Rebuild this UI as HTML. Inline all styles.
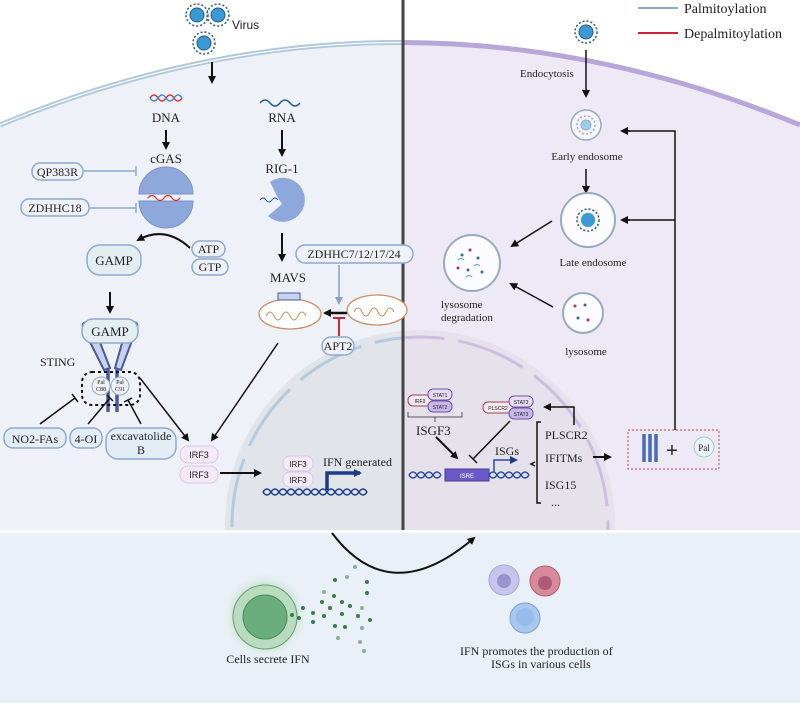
<!DOCTYPE html>
<html><head><meta charset="utf-8"><style>
html,body{margin:0;padding:0;background:#fff}
svg{display:block}
text{font-family:"Liberation Serif",serif;fill:#222}
.s{font-family:"Liberation Sans",sans-serif}
</style></head><body>
<svg width="800" height="706" viewBox="0 0 800 706" xmlns="http://www.w3.org/2000/svg">
<defs>
<marker id="a" markerWidth="8" markerHeight="8" refX="6" refY="4" orient="auto" markerUnits="userSpaceOnUse"><path d="M0,0 L8,4 L0,8 z" fill="#111"/></marker>
<marker id="ab" markerWidth="8" markerHeight="8" refX="6" refY="4" orient="auto" markerUnits="userSpaceOnUse"><path d="M0,0 L8,4 L0,8 z" fill="#8aa0c8"/></marker>
<marker id="an" markerWidth="8" markerHeight="8" refX="6" refY="4" orient="auto" markerUnits="userSpaceOnUse"><path d="M0,0 L8,4 L0,8 z" fill="#1a3a8a"/></marker>
<clipPath id="L"><rect x="0" y="0" width="403" height="530"/></clipPath>
<clipPath id="R"><rect x="403" y="0" width="397" height="530"/></clipPath>
<radialGradient id="g"><stop offset="0.5" stop-color="#9fd4a8"/><stop offset="1" stop-color="#eef3f9" stop-opacity="0"/></radialGradient>
</defs>
<rect width="800" height="706" fill="#fff"/>
<path d="M0,125 Q400,-40 800,125 L800,530 L0,530 z" fill="#eef2f8" clip-path="url(#L)"/>
<path d="M0,125 Q400,-40 800,125 L800,530 L0,530 z" fill="#eeeaf5" clip-path="url(#R)"/>
<circle cx="420" cy="525" r="195" fill="#e1e4e9" clip-path="url(#L)"/>
<circle cx="420" cy="525" r="195" fill="#e5e2ec" clip-path="url(#R)"/>
<circle cx="420" cy="525" r="188" fill="none" stroke="#b4cadd" stroke-width="3" stroke-dasharray="70 14" clip-path="url(#L)"/>
<circle cx="420" cy="525" r="188" fill="none" stroke="#cbbee0" stroke-width="3" stroke-dasharray="70 14" clip-path="url(#R)"/>
<path d="M0,125 Q400,-40 800,125" fill="none" stroke="#b0c8dc" stroke-width="5" clip-path="url(#L)"/>
<path d="M0,125 Q400,-40 800,125" fill="none" stroke="#fff" stroke-width="1.2" clip-path="url(#L)"/>
<path d="M0,125 Q400,-40 800,125" fill="none" stroke="#b7a6d8" stroke-width="5" clip-path="url(#R)"/>
<rect x="0" y="533" width="800" height="170" fill="#eaf0f7"/>
<line x1="403" y1="0" x2="403" y2="530" stroke="#444" stroke-width="3"/>
<line x1="638" y1="8" x2="678" y2="8" stroke="#8fa8cc" stroke-width="2"/>
<text x="684" y="13" font-size="14">Palmitoylation</text>
<line x1="638" y1="33" x2="678" y2="33" stroke="#d0223a" stroke-width="2"/>
<text x="684" y="38" font-size="14">Depalmitoylation</text>
<g fill="#3a9ad6" stroke="#2a5a8a" stroke-width="1">
<circle cx="197" cy="15" r="7"/><circle cx="218" cy="15" r="7"/><circle cx="204" cy="43" r="7"/><circle cx="586" cy="32" r="7"/>
<circle cx="586" cy="125" r="5"/><circle cx="588" cy="220" r="7"/>
</g>
<g stroke="#2a5a8a" stroke-width="1.5" stroke-dasharray="2 2" fill="none">
<circle cx="197" cy="15" r="11"/><circle cx="218" cy="15" r="11"/><circle cx="204" cy="43" r="11"/><circle cx="586" cy="32" r="11"/><circle cx="586" cy="125" r="9"/><circle cx="588" cy="220" r="11"/>
</g>
<text x="232" y="29" font-size="12" class="s">Virus</text>
<line x1="212" y1="62" x2="212" y2="82" stroke="#111" stroke-width="2" marker-end="url(#a)"/>
<path d="M150,98 q4,-6 8,0 t8,0 t8,0 t8,0" fill="none" stroke="#d33" stroke-width="1.5"/>
<path d="M150,98 q4,6 8,0 t8,0 t8,0 t8,0" fill="none" stroke="#3a8ad6" stroke-width="1.5"/>
<text x="166" y="122" font-size="13" text-anchor="middle">DNA</text>
<line x1="166" y1="130" x2="166" y2="148" stroke="#111" stroke-width="2" marker-end="url(#a)"/>
<text x="166" y="163" font-size="13" text-anchor="middle">cGAS</text>
<path d="M139,194 A27,27 0 0 1 193,194 z" fill="#8fa8dc" stroke="#7a92c8"/>
<path d="M139,201 A27,27 0 0 0 193,201 z" fill="#8fa8dc" stroke="#7a92c8"/>
<path d="M148,198 q4,-5 8,0 t8,0 t8,0 t8,0" fill="none" stroke="#d33" stroke-width="1.3"/>
<rect x="32" y="163" width="51" height="17" rx="8" fill="#eef2f8" stroke="#8fa8cc" stroke-width="1.5"/>
<text x="57.5" y="176" font-size="12" text-anchor="middle">QP383R</text>
<rect x="21" y="199" width="68" height="17" rx="8" fill="#eef2f8" stroke="#8fa8cc" stroke-width="1.5"/>
<text x="55" y="212" font-size="12" text-anchor="middle">ZDHHC18</text>
<path d="M84,171 H136 M136,166 V176 M90,208 H136 M136,203 V213" stroke="#8fa8cc" stroke-width="1.5" fill="none"/>
<path d="M190,248 Q165,225 138,240" fill="none" stroke="#111" stroke-width="2" marker-end="url(#a)"/>
<rect x="87" y="245" width="54" height="30" rx="13" fill="#e4eef0" stroke="#8fa8cc" stroke-width="1.5"/>
<text x="114" y="265" font-size="13" text-anchor="middle">GAMP</text>
<rect x="192" y="241" width="33" height="16" rx="8" fill="#eef2f8" stroke="#8fa8cc" stroke-width="1.5"/>
<text x="208.5" y="253" font-size="12" text-anchor="middle">ATP</text>
<rect x="192" y="259" width="36" height="16" rx="8" fill="#eef2f8" stroke="#8fa8cc" stroke-width="1.5"/>
<text x="210" y="271" font-size="12" text-anchor="middle">GTP</text>
<line x1="110" y1="292" x2="110" y2="312" stroke="#111" stroke-width="2" marker-end="url(#a)"/>
<!-- STING -->
<path d="M108,368 V412 M117,368 V412" fill="none" stroke="#4a5a9a" stroke-width="3.5"/>
<path d="M84,330 Q80,322 88,322 L92,322 L110,368 L104,370 z" fill="#c7d2ee" stroke="#4a5a9a" stroke-width="2"/>
<path d="M136,330 Q140,322 132,322 L128,322 L115,368 L121,370 z" fill="#c7d2ee" stroke="#4a5a9a" stroke-width="2"/>
<rect x="82" y="319" width="56" height="24" rx="11" fill="#e4eef0" stroke="#8fa8cc" stroke-width="1.5"/>
<text x="110" y="336" font-size="13" text-anchor="middle">GAMP</text>
<text x="40" y="366" font-size="12">STING</text>
<rect x="82" y="372" width="58" height="33" rx="10" fill="none" stroke="#111" stroke-width="2" stroke-dasharray="3 3"/>
<circle cx="101" cy="386" r="9" fill="#eef2f8" stroke="#9ab"/><circle cx="120" cy="386" r="9" fill="#eef2f8" stroke="#9ab"/>
<text x="101" y="384" font-size="6" text-anchor="middle">Pal</text><text x="101" y="391" font-size="6" text-anchor="middle">C88</text>
<text x="120" y="384" font-size="6" text-anchor="middle">Pal</text><text x="120" y="391" font-size="6" text-anchor="middle">C91</text>
<rect x="4" y="428" width="62" height="20" rx="9" fill="#e4ecf6" stroke="#8fa8cc" stroke-width="1.5"/>
<text x="35" y="443" font-size="12" text-anchor="middle">NO2-FAs</text>
<rect x="70" y="428" width="32" height="20" rx="9" fill="#e4ecf6" stroke="#8fa8cc" stroke-width="1.5"/>
<text x="86" y="443" font-size="12" text-anchor="middle">4-OI</text>
<rect x="106" y="428" width="70" height="31" rx="12" fill="#e4ecf6" stroke="#8fa8cc" stroke-width="1.5"/>
<text x="141" y="440" font-size="12" text-anchor="middle">excavatolide</text>
<text x="141" y="454" font-size="12" text-anchor="middle">B</text>
<path d="M40,424 L75,398 M72,394 L78,402 M88,424 L110,398 M107,395 L113,401 M141,424 L128,400 M124,402 L132,398" stroke="#111" stroke-width="1.5" fill="none"/>
<line x1="140" y1="378" x2="188" y2="440" stroke="#111" stroke-width="1.5" marker-end="url(#a)"/>
<line x1="278" y1="343" x2="212" y2="440" stroke="#111" stroke-width="1.5" marker-end="url(#a)"/>
<rect x="180" y="446" width="38" height="17" rx="8" fill="#f3eaf6" stroke="#d8c8e4"/>
<text x="199" y="458" font-size="9" text-anchor="middle" class="s">IRF3</text>
<rect x="180" y="466" width="38" height="17" rx="8" fill="#f3eaf6" stroke="#d8c8e4"/>
<text x="199" y="478" font-size="9" text-anchor="middle" class="s">IRF3</text>
<line x1="220" y1="473" x2="260" y2="473" stroke="#111" stroke-width="2" marker-end="url(#a)"/>
<path d="M263,492 q4,-6 8,0 t8,0 t8,0 t8,0 t8,0 t8,0 t8,0 t8,0 t8,0 t8,0 t8,0 t8,0 t8,0" fill="none" stroke="#1a3a8a" stroke-width="1.5"/>
<path d="M263,492 q4,6 8,0 t8,0 t8,0 t8,0 t8,0 t8,0 t8,0 t8,0 t8,0 t8,0 t8,0 t8,0 t8,0" fill="none" stroke="#1a3a8a" stroke-width="1.5"/>
<rect x="283" y="456" width="30" height="15" rx="7" fill="#f3eaf6" stroke="#d8c8e4"/>
<text x="298" y="467" font-size="8" text-anchor="middle" class="s">IRF3</text>
<rect x="283" y="472" width="30" height="15" rx="7" fill="#f3eaf6" stroke="#d8c8e4"/>
<text x="298" y="483" font-size="8" text-anchor="middle" class="s">IRF3</text>
<path d="M327,490 V473 H360" fill="none" stroke="#1a3a8a" stroke-width="3.5" marker-end="url(#an)"/>
<text x="323" y="466" font-size="12">IFN generated</text>
<path d="M260,103 q5,-6 10,0 t10,0 t10,0 t10,0" fill="none" stroke="#2a5a8a" stroke-width="1.5"/>
<text x="282" y="122" font-size="13" text-anchor="middle">RNA</text>
<line x1="282" y1="130" x2="282" y2="155" stroke="#111" stroke-width="2" marker-end="url(#a)"/>
<text x="282" y="173" font-size="13" text-anchor="middle">RIG-1</text>
<path d="M270,182 A22,22 0 1 1 268,216 L282,204 L278,198 z" fill="#8fa8dc"/>
<path d="M260,200 q3,-4 6,0 t6,0 t6,0" fill="none" stroke="#2a5a8a" stroke-width="1"/>
<line x1="282" y1="233" x2="282" y2="260" stroke="#111" stroke-width="2" marker-end="url(#a)"/>
<text x="288" y="282" font-size="13" text-anchor="middle">MAVS</text>
<ellipse cx="290" cy="314" rx="31" ry="15" fill="#fff" stroke="#c8906a" stroke-width="1.3"/>
<path d="M266,316 q4,-8 8,0 q4,8 8,0 q4,-8 8,0 q4,8 8,0 q4,-8 8,0" fill="none" stroke="#c8906a"/>
<rect x="278" y="293" width="22" height="7" fill="#c7d2ee" stroke="#4a5a9a"/>
<ellipse cx="377" cy="310" rx="30" ry="15" fill="#fff" stroke="#c8906a" stroke-width="1.3"/>
<path d="M354,312 q4,-8 8,0 q4,8 8,0 q4,-8 8,0 q4,8 8,0 q4,-8 8,0" fill="none" stroke="#c8906a"/>
<line x1="347" y1="313" x2="325" y2="313" stroke="#111" stroke-width="2.5" marker-end="url(#a)"/>
<line x1="339" y1="265" x2="339" y2="303" stroke="#8aa0c8" stroke-width="1.5" marker-end="url(#ab)"/>
<path d="M339,336 V318 M333,318 H345" stroke="#d0223a" stroke-width="2" fill="none"/>
<rect x="296" y="245" width="117" height="18" rx="9" fill="#eef2f8" stroke="#8fa8cc" stroke-width="1.5"/>
<text x="354" y="258" font-size="12" text-anchor="middle">ZDHHC7/12/17/24</text>
<rect x="322" y="337" width="32" height="18" rx="9" fill="#eef2f8" stroke="#8fa8cc" stroke-width="1.5"/>
<text x="338" y="350" font-size="12" text-anchor="middle">APT2</text>
<line x1="586" y1="50" x2="586" y2="96" stroke="#111" stroke-width="1.5" marker-end="url(#a)"/>
<text x="520" y="77" font-size="11">Endocytosis</text>
<circle cx="586" cy="125" r="15" fill="#fff" stroke="#9ab" stroke-width="1.5" fill-opacity="0.5"/>
<text x="587" y="160" font-size="11" text-anchor="middle">Early endosome</text>
<line x1="586" y1="169" x2="586" y2="192" stroke="#111" stroke-width="1.5" marker-end="url(#a)"/>
<circle cx="588" cy="220" r="27" fill="#fff" fill-opacity="0.8" stroke="#9ab" stroke-width="2"/>
<circle cx="588" cy="220" r="7" fill="#3a9ad6"/>
<circle cx="588" cy="220" r="11" fill="none" stroke="#2a5a8a" stroke-width="1.5" stroke-dasharray="2 2"/>
<text x="593" y="266" font-size="11" text-anchor="middle">Late endosome</text>
<circle cx="472" cy="263" r="28" fill="#fff" fill-opacity="0.8" stroke="#9ab" stroke-width="2"/>
<g fill="#3a6a8a"><circle cx="462" cy="255" r="1.5"/><circle cx="478" cy="258" r="1.5"/><circle cx="468" cy="270" r="1.5"/><circle cx="482" cy="272" r="1.5"/></g>
<g fill="#b03060"><circle cx="470" cy="250" r="1.5"/><circle cx="458" cy="268" r="1.5"/></g>
<path d="M458,260 q3,-3 6,0 M474,266 q3,-3 6,0 M466,277 q3,-3 6,0" fill="none" stroke="#3ab0c8"/>
<text x="441" y="308" font-size="11">lysosome</text>
<text x="441" y="321" font-size="11">degradation</text>
<circle cx="583" cy="313" r="20" fill="#fff" fill-opacity="0.8" stroke="#9ab" stroke-width="2"/>
<g fill="#b03060"><circle cx="575" cy="306" r="1.5"/><circle cx="588" cy="320" r="1.5"/></g>
<g fill="#3a6a8a"><circle cx="585" cy="305" r="1.5"/><circle cx="578" cy="318" r="1.5"/></g>
<text x="586" y="355" font-size="11" text-anchor="middle">lysosome</text>
<line x1="552" y1="221" x2="512" y2="246" stroke="#111" stroke-width="1.5" marker-end="url(#a)"/>
<line x1="553" y1="307" x2="511" y2="284" stroke="#111" stroke-width="1.5" marker-end="url(#a)"/>
<path d="M675,430 V131 H623 M675,220 H623" fill="none" stroke="#111" stroke-width="1.5"/>
<line x1="630" y1="131" x2="622" y2="131" stroke="#111" stroke-width="1.5" marker-end="url(#a)"/>
<line x1="630" y1="220" x2="622" y2="220" stroke="#111" stroke-width="1.5" marker-end="url(#a)"/>
<rect x="628" y="430" width="91" height="39" fill="none" stroke="#c84050" stroke-width="1" stroke-dasharray="2 2"/>
<path d="M644,434 V462 M650,434 V462 M656,434 V462" stroke="#4a6ab8" stroke-width="3.5"/>
<text x="672" y="457" font-size="20" text-anchor="middle" class="s">+</text>
<circle cx="704" cy="447" r="10" fill="#eef2f8" stroke="#9cc"/>
<text x="704" y="451" font-size="9" text-anchor="middle">Pal</text>
<rect x="408" y="395" width="24" height="11" rx="5" fill="#f6eaf0" stroke="#a04060"/>
<text x="420" y="403" font-size="5" text-anchor="middle" class="s">IRF9</text>
<rect x="428" y="389" width="24" height="11" rx="5" fill="#e8dcf4" stroke="#7050a0"/>
<text x="440" y="397" font-size="5" text-anchor="middle" class="s">STAT1</text>
<rect x="428" y="401" width="24" height="11" rx="5" fill="#c8b8ea" stroke="#7050a0"/>
<text x="440" y="409" font-size="5" text-anchor="middle" class="s">STAT2</text>
<path d="M408,412 V417 H462 V412 M435,417 V422" fill="none" stroke="#555"/>
<text x="416" y="435" font-size="13">ISGF3</text>
<rect x="483" y="402" width="30" height="11" rx="5" fill="#f6eaf0" stroke="#a04060"/>
<text x="498" y="410" font-size="5" text-anchor="middle" class="s">PLSCR2</text>
<rect x="509" y="396" width="24" height="11" rx="5" fill="#e8dcf4" stroke="#7050a0"/>
<text x="521" y="404" font-size="5" text-anchor="middle" class="s">STAT3</text>
<rect x="509" y="408" width="24" height="11" rx="5" fill="#c8b8ea" stroke="#7050a0"/>
<text x="521" y="416" font-size="5" text-anchor="middle" class="s">STAT3</text>
<line x1="436" y1="437" x2="457" y2="458" stroke="#111" stroke-width="2" marker-end="url(#a)"/>
<path d="M510,421 L473,459 M469,455 L477,463" stroke="#111" stroke-width="1.5" fill="none"/>
<path d="M409,475 q4,-6 8,0 t8,0 t8,0 t8,0 M489,475 q4,-6 8,0 t8,0 t8,0 t8,0 t8,0" fill="none" stroke="#2a4aa8" stroke-width="1.5"/>
<path d="M409,475 q4,6 8,0 t8,0 t8,0 t8,0 M489,475 q4,6 8,0 t8,0 t8,0 t8,0 t8,0" fill="none" stroke="#2a4aa8" stroke-width="1.5"/>
<rect x="445" y="469" width="44" height="12" fill="#6a5ac8" stroke="#4a3a98"/>
<text x="467" y="478" font-size="6" text-anchor="middle" class="s" style="fill:#fff">ISRE</text>
<path d="M494,472 V460 H516" fill="none" stroke="#2a4aa8" stroke-width="1.5" marker-end="url(#an)"/>
<text x="495" y="455" font-size="12">ISGs</text>
<path d="M541,422 H537 V503 H541 M535,462 L531,464 L535,466" fill="none" stroke="#111" stroke-width="1.5"/>
<text x="545" y="439" font-size="12">PLSCR2</text>
<text x="545" y="462" font-size="12">IFITMs</text>
<text x="545" y="489" font-size="12">ISG15</text>
<text x="551" y="506" font-size="12">...</text>
<line x1="593" y1="457" x2="610" y2="457" stroke="#111" stroke-width="2" marker-end="url(#a)"/>
<path d="M574,425 V407 H545" fill="none" stroke="#111" stroke-width="1.5" marker-end="url(#a)"/>
<path d="M332,533 Q390,610 474,538" fill="none" stroke="#111" stroke-width="2" marker-end="url(#a)"/>
<circle cx="265" cy="616" r="45" fill="url(#g)"/>
<circle cx="265" cy="617" r="32" fill="#b9dcbf" stroke="#6a9a70"/>
<circle cx="265" cy="617" r="22" fill="#6aae7e" stroke="#4a8a5a"/>
<g fill="#3a7a4a">
<circle cx="292" cy="615" r="2"/><circle cx="299" cy="618" r="2"/><circle cx="303" cy="608" r="2"/><circle cx="313" cy="613" r="2"/><circle cx="313" cy="622" r="2"/><circle cx="324" cy="616" r="2"/><circle cx="322" cy="602" r="2"/><circle cx="330" cy="608" r="2"/><circle cx="334" cy="596" r="2"/><circle cx="342" cy="602" r="2"/><circle cx="342" cy="614" r="2"/><circle cx="345" cy="627" r="2"/><circle cx="350" cy="606" r="2"/><circle cx="358" cy="616" r="2"/><circle cx="335" cy="626" r="2"/><circle cx="367" cy="593" r="2"/><circle cx="370" cy="620" r="2"/><circle cx="335" cy="580" r="2"/><circle cx="367" cy="582" r="2"/>
</g>
<g fill="#8ab09a"><circle cx="355" cy="567" r="2"/><circle cx="347" cy="577" r="2"/><circle cx="324" cy="592" r="2"/><circle cx="362" cy="608" r="2"/><circle cx="362" cy="628" r="2"/><circle cx="338" cy="638" r="2"/><circle cx="360" cy="642" r="2"/><circle cx="364" cy="651" r="2"/></g>
<text x="268" y="663" font-size="12" text-anchor="middle">Cells secrete IFN</text>
<circle cx="504" cy="580" r="15" fill="#c8c4ee" stroke="#a8a4d8"/><circle cx="504" cy="581" r="7" fill="#9a94cc"/>
<circle cx="545" cy="581" r="15" fill="#d88a9a" stroke="#b06070"/><circle cx="545" cy="583" r="7" fill="#b05a78"/>
<circle cx="525" cy="618" r="15" fill="#a8c8f0" stroke="#7aa0d8"/><circle cx="525" cy="617" r="9" fill="#98bcea"/>
<text x="460" y="655" font-size="12">IFN promotes the production of</text>
<text x="491" y="668" font-size="12">ISGs in various cells</text>
</svg>
</body></html>
